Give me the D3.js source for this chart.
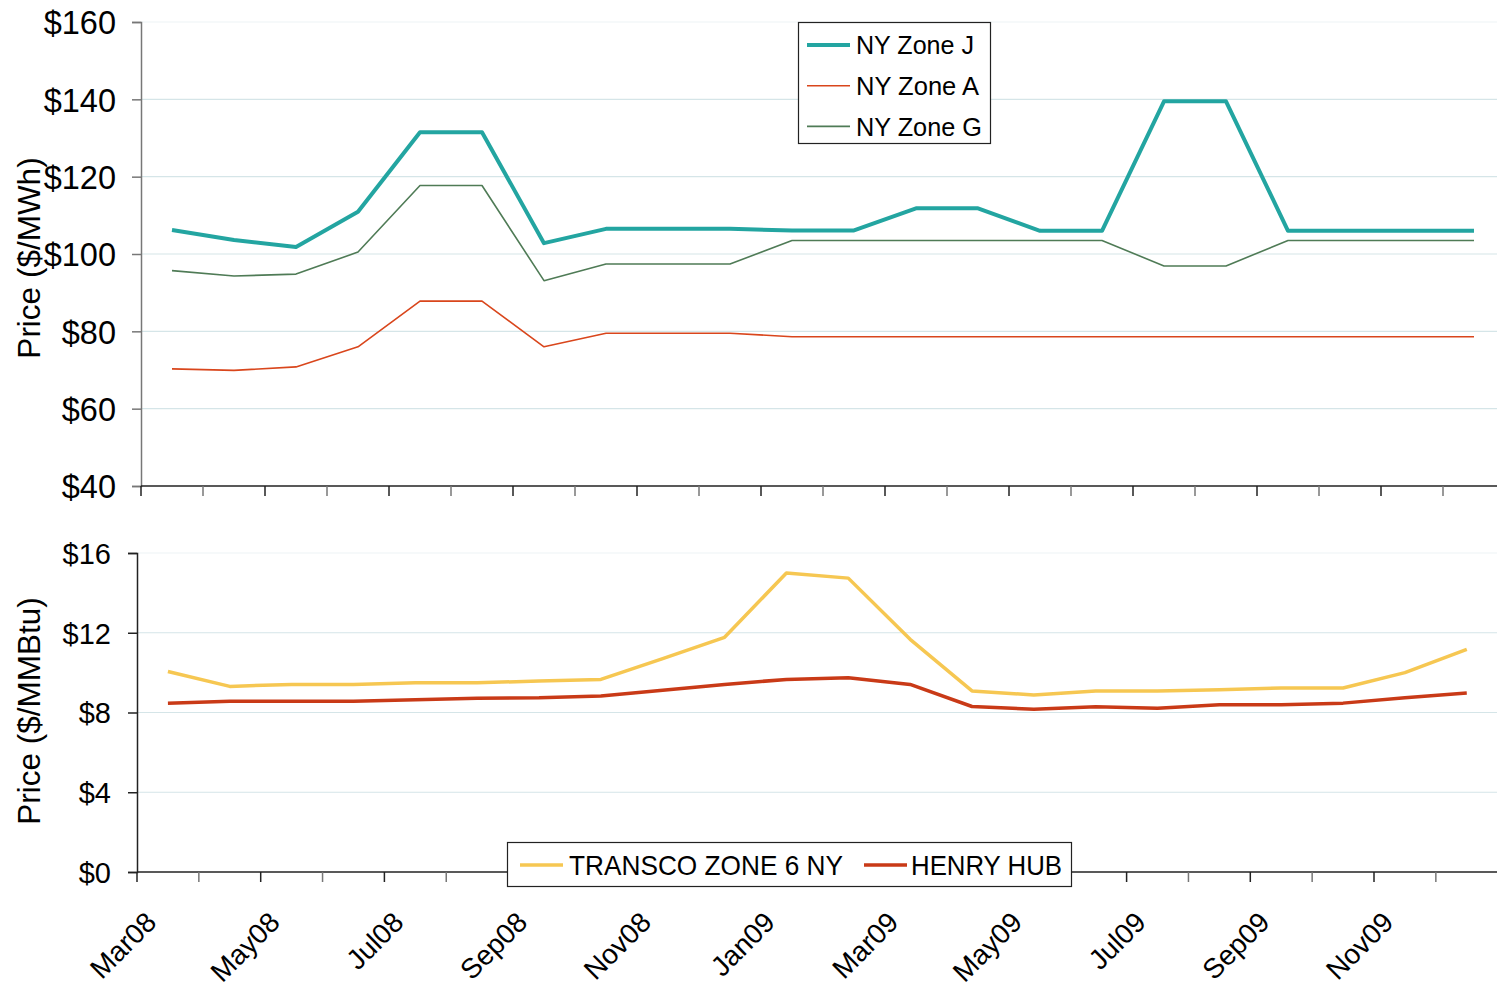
<!DOCTYPE html>
<html>
<head>
<meta charset="utf-8">
<script src="https://cdn.jsdelivr.net/npm/d3@7"></script>
<style>
  html, body { margin: 0; padding: 0; background: #fff; }
  svg { display: block; font-family: "Liberation Sans", Arial, sans-serif; }
</style>
</head>
<body>
<svg id="chart" width="1497" height="989"></svg>
<script>
// ---- data ----
const months = ["Mar08","Apr08","May08","Jun08","Jul08","Aug08","Sep08","Oct08","Nov08","Dec08","Jan09","Feb09",
                "Mar09","Apr09","May09","Jun09","Jul09","Aug09","Sep09","Oct09","Nov09","Dec09"];
const tickLabelMonths = ["Mar08","May08","Jul08","Sep08","Nov08","Jan09","Mar09","May09","Jul09","Sep09","Nov09"];

const nyZoneJ = [106.2,103.6,101.8,110.9,131.5,131.5,102.8,106.5,106.5,106.5,106.1,106.1,
                 111.8,111.8,106.0,106.0,139.5,139.5,106.0,106.0,106.0,106.0];
const nyZoneA = [70.3,69.9,70.8,76.0,87.8,87.8,76.0,79.5,79.5,79.5,78.6,78.6,
                 78.6,78.6,78.6,78.6,78.6,78.6,78.6,78.6,78.6,78.6];
const nyZoneG = [95.7,94.3,94.8,100.5,117.7,117.7,93.1,97.4,97.4,97.4,103.5,103.5,
                 103.5,103.5,103.5,103.5,96.9,96.9,103.5,103.5,103.5,103.5];

const transco = [10.06,9.31,9.41,9.41,9.49,9.49,9.58,9.66,10.7,11.77,15.0,14.74,
                 11.67,9.08,8.88,9.08,9.08,9.14,9.23,9.23,10.0,11.17];
const henryHub = [8.47,8.56,8.56,8.56,8.64,8.72,8.74,8.83,9.12,9.41,9.66,9.74,
                  9.41,8.3,8.16,8.29,8.21,8.39,8.39,8.47,8.74,8.98];

const topTicks = [40,60,80,100,120,140,160];
const bottomTicks = [0,4,8,12,16];

const topSeries = [
  {name:"NY Zone J", values:nyZoneJ, color:"#23A5A1", width:4},
  {name:"NY Zone A", values:nyZoneA, color:"#D9461C", width:1.6},
  {name:"NY Zone G", values:nyZoneG, color:"#4F7B56", width:1.6}
];
const bottomSeries = [
  {name:"TRANSCO ZONE 6 NY", values:transco, color:"#F6C752", width:3.5},
  {name:"HENRY HUB", values:henryHub, color:"#C93A17", width:3.5}
];

// ---- drawing ----
const svg = d3.select("#chart");
const W = 1497;
const gridColor = "#D5E5E8";

function panel(cfg) {
  const x = d3.scaleBand().domain(months).range([cfg.left, cfg.left + cfg.step * months.length]);
  const y = d3.scaleLinear().domain(cfg.domain).range([cfg.bottom, cfg.top]);
  const g = svg.append("g");

  // gridlines
  g.append("g").selectAll("line").data(cfg.ticks.slice(1)).join("line")
    .attr("x1", cfg.left).attr("x2", W)
    .attr("y1", d => y(d)).attr("y2", d => y(d))
    .attr("stroke", (d,i,arr) => i === arr.length - 1 ? "#EEF4F5" : gridColor)
    .attr("stroke-width", 1.2);

  // y axis
  const yAxis = d3.axisLeft(y).tickValues(cfg.ticks).tickSize(9).tickPadding(0)
    .tickFormat(d => "$" + d);
  const ya = g.append("g").attr("transform", `translate(${cfg.left},0)`).call(yAxis);
  ya.select(".domain").attr("stroke", cfg.yAxisColor).attr("stroke-width", 1.5);
  ya.selectAll(".tick line").attr("stroke", cfg.yAxisColor).attr("stroke-width", 1.5);
  ya.selectAll(".tick text").attr("font-size", cfg.tickFont).attr("fill", "#000")
    .attr("x", cfg.labelRight - cfg.left).attr("dy", "0.36em")
    .attr("font-family", "Liberation Sans, Arial, sans-serif");

  // x axis line + ticks at category boundaries
  g.append("line").attr("x1", cfg.left).attr("x2", W)
    .attr("y1", cfg.bottom).attr("y2", cfg.bottom)
    .attr("stroke", "#222").attr("stroke-width", 1.5);
  const bounds = months.map(m => x(m)).concat([x(months[months.length-1]) + x.bandwidth()]);
  g.append("g").selectAll("line").data(bounds.filter(b => b < W)).join("line")
    .attr("x1", d => d).attr("x2", d => d)
    .attr("y1", cfg.bottom).attr("y2", cfg.bottom + 10)
    .attr("stroke", (d,i) => i % 2 === 0 ? "#222" : "#777").attr("stroke-width", 1.5);

  // y title
  g.append("text")
    .attr("transform", `translate(${cfg.titleX},${cfg.titleY}) rotate(-90)`)
    .attr("text-anchor", "middle").attr("dominant-baseline", "central")
    .attr("font-size", cfg.titleFont).text(cfg.title);

  // lines
  const line = d3.line().x((d,i) => x(months[i]) + x.bandwidth()/2).y(d => y(d));
  g.append("g").selectAll("path").data(cfg.series).join("path")
    .attr("d", s => line(s.values))
    .attr("fill", "none").attr("stroke", s => s.color)
    .attr("stroke-width", s => s.width).attr("stroke-linejoin", "round");

  return {x, y, g};
}

const topPanel = panel({
  left: 141, step: 62, top: 22, bottom: 486, domain: [40,160], ticks: topTicks,
  tickFont: 32.5, labelRight: 116, yAxisColor: "#777",
  title: "Price ($/MWh)", titleX: 29, titleY: 258, titleFont: 31.5, series: topSeries
});

const botPanel = panel({
  left: 137, step: 61.85, top: 553, bottom: 872, domain: [0,16], ticks: bottomTicks,
  tickFont: 29, labelRight: 111, yAxisColor: "#222",
  title: "Price ($/MMBtu)", titleX: 29, titleY: 711, titleFont: 31.5, series: bottomSeries
});

// x tick labels (bottom)
svg.append("g").selectAll("text").data(tickLabelMonths).join("text")
  .attr("transform", d => `translate(${botPanel.x(d) + botPanel.x.bandwidth()/2 - 10},${924}) rotate(-45)`)
  .attr("text-anchor", "end").attr("font-size", 28).text(d => d);

// top legend
const tl = svg.append("g");
tl.append("rect").attr("x", 798.5).attr("y", 22.5).attr("width", 192).attr("height", 121)
  .attr("fill", "#fff").attr("stroke", "#222").attr("stroke-width", 1.2);
topSeries.forEach((s, i) => {
  const yy = 45 + i * 40.7;
  tl.append("line").attr("x1", 807).attr("x2", 850).attr("y1", yy).attr("y2", yy)
    .attr("stroke", s.color).attr("stroke-width", s.width);
  tl.append("text").attr("x", 856).attr("y", yy).attr("dy", "0.36em")
    .attr("font-size", 26).attr("textLength", i === 2 ? 126 : (i === 1 ? 123 : 118))
    .attr("lengthAdjust", "spacingAndGlyphs").text(s.name);
});

// bottom legend
const bl = svg.append("g");
bl.append("rect").attr("x", 507.5).attr("y", 842.5).attr("width", 564).attr("height", 44)
  .attr("fill", "#fff").attr("stroke", "#222").attr("stroke-width", 1.2);
const blItems = [
  {s: bottomSeries[0], lx: 520, tx: 569, tl: 274},
  {s: bottomSeries[1], lx: 864, tx: 911, tl: 151}
];
blItems.forEach(it => {
  bl.append("line").attr("x1", it.lx).attr("x2", it.lx + 43).attr("y1", 865).attr("y2", 865)
    .attr("stroke", it.s.color).attr("stroke-width", it.s.width);
  bl.append("text").attr("x", it.tx).attr("y", 865).attr("dy", "0.36em")
    .attr("font-size", 28).attr("textLength", it.tl).attr("lengthAdjust", "spacingAndGlyphs")
    .text(it.s.name);
});
</script>
</body>
</html>
